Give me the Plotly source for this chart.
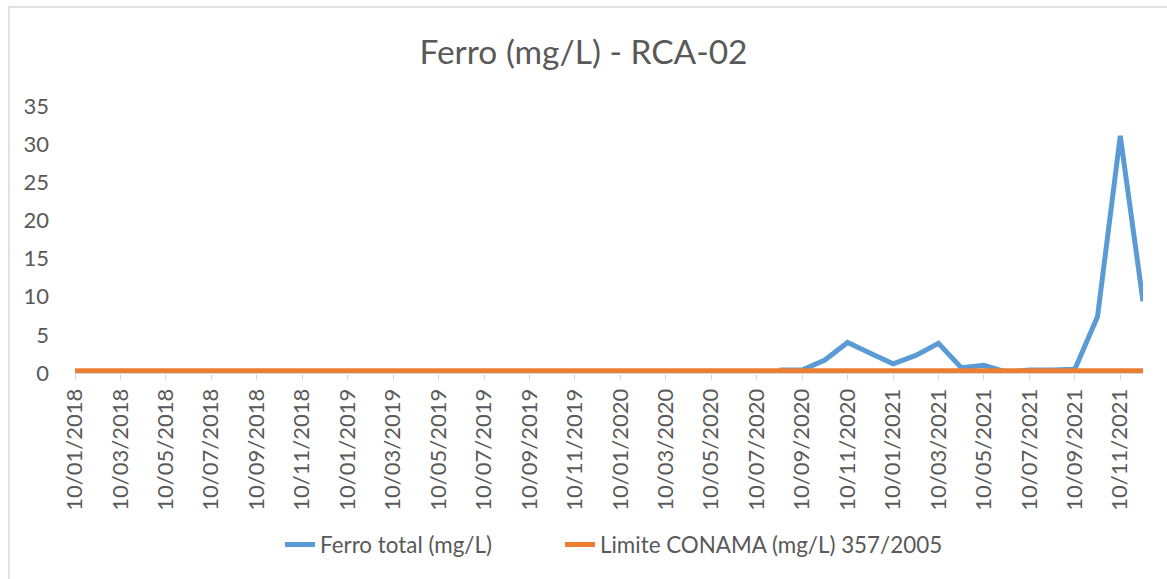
import plotly.graph_objects as go

years = [2018, 2019, 2020, 2021]
months = list(range(1, 13))
dates = [f"10/{m:02d}/{y}" for y in years for m in months]

ferro_total = [None] * 31 + [
    0.4, 0.4, 1.7, 4.0, 2.6,
    1.2, 2.3, 3.9, 0.7, 1.0, 0.1, 0.4, 0.4, 0.5, 7.4, 31.1, 9.4,
]
limite_conama = [0.3] * 48

tick_labels = dates[::2]

FONT = "Lato, 'Open Sans', sans-serif"
GRAY = "#595959"

fig = go.Figure()
fig.add_trace(go.Scatter(
    x=dates, y=ferro_total, mode="lines", name="Ferro total (mg/L)",
    line=dict(color="#5B9BD5", width=5), connectgaps=False, legend="legend",
))
fig.add_trace(go.Scatter(
    x=dates, y=limite_conama, mode="lines", name="Limite CONAMA (mg/L) 357/2005",
    line=dict(color="#ED7D31", width=5), legend="legend2",
))

L, R, T, B = 75, 24, 106, 206
W, H = 1167, 579
pw, ph = W - L - R, H - T - B

def px_x(p):
    return (p - L) / pw

def px_y(p):
    return (H - B - p) / ph

leg_common = dict(orientation="h", xanchor="left", y=px_y(545), yanchor="middle",
                  font=dict(size=22.4, color=GRAY, family=FONT),
                  bgcolor="rgba(0,0,0,0)")

fig.update_layout(
    width=W, height=H,
    margin=dict(l=L, r=R, t=T, b=B),
    paper_bgcolor="white", plot_bgcolor="white",
    font=dict(family=FONT, color=GRAY, size=22),
    title=dict(text="Ferro (mg/L) - RCA-02", x=0.5, xanchor="center",
               y=1 - 52 / H, yanchor="middle",
               font=dict(size=33.5, color=GRAY, family=FONT)),
    showlegend=True,
    legend=dict(x=px_x(280), **leg_common),
    legend2=dict(x=px_x(560), **leg_common),
    xaxis=dict(
        type="category", categoryorder="array", categoryarray=dates,
        range=[0, 47], tickmode="array", tickvals=tick_labels,
        ticktext=tick_labels, tickangle=-90,
        ticks="outside", ticklen=6, tickcolor="#D9D9D9", tickwidth=1,
        showline=True, linecolor="#D9D9D9", linewidth=1,
        showgrid=False, zeroline=False,
        tickfont=dict(size=22, color=GRAY),
    ),
    yaxis=dict(
        range=[0, 35], dtick=5, tick0=0, showgrid=False, zeroline=False,
        showline=False, ticks="", ticklabelstandoff=25,
        tickfont=dict(size=22, color=GRAY),
    ),
    shapes=[dict(
        type="rect", xref="paper", yref="paper",
        x0=px_x(9), x1=px_x(W + 5), y0=px_y(H + 5), y1=px_y(7),
        line=dict(color="#D9D9D9", width=1.5), fillcolor="rgba(0,0,0,0)",
        layer="below",
    )],
)

fig.write_html("out.html", config={"displayModeBar": False},
               post_script="document.body.style.margin='0';")
